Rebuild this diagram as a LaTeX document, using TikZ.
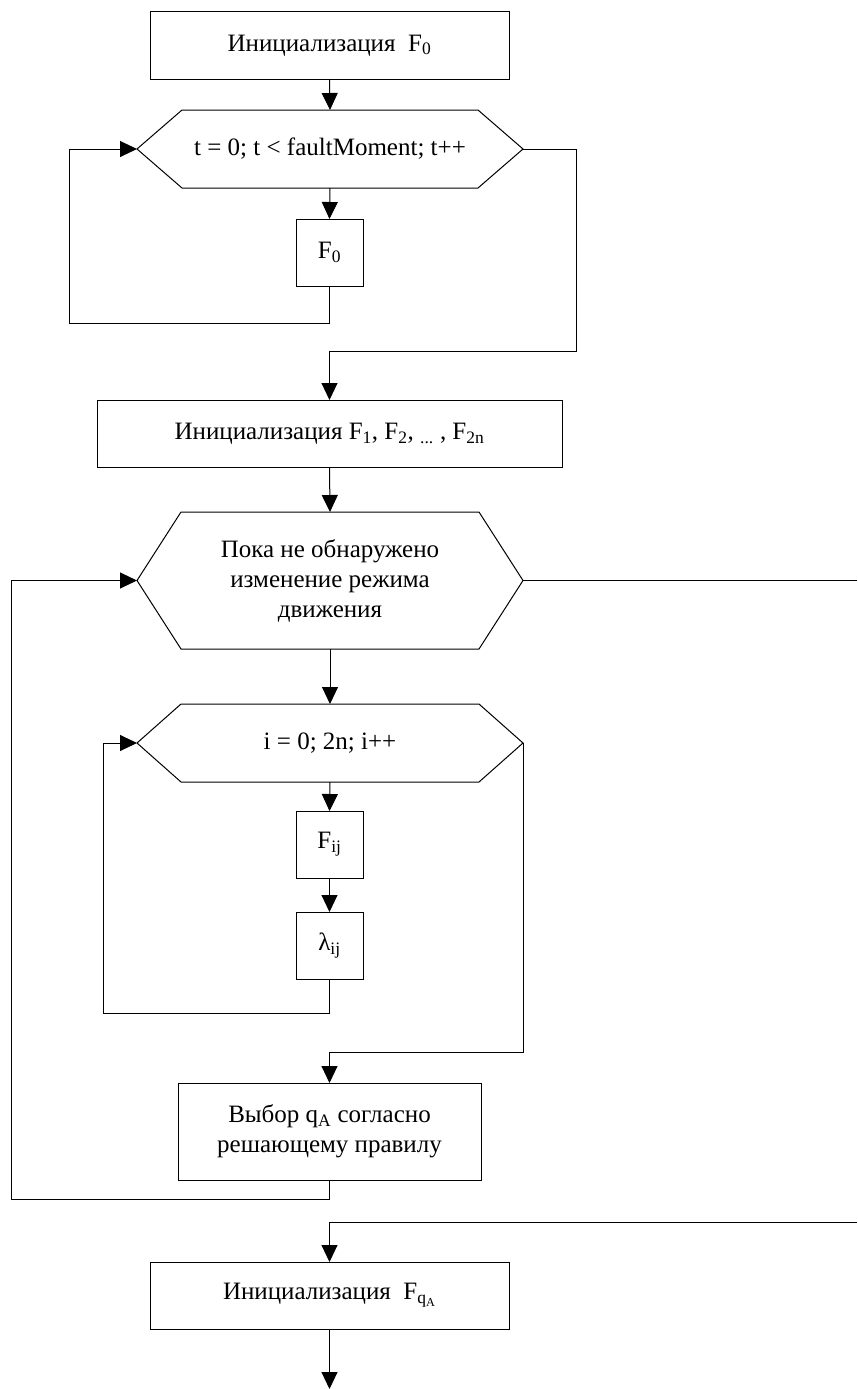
\documentclass[tikz,border=0pt]{standalone}
\usepackage{fontspec}
\setmainfont{Liberation Serif}
\usetikzlibrary{arrows.meta,calc}
\begin{document}
\begin{tikzpicture}[x=1pt,y=-1pt,
  line width=1pt,
  every node/.style={font=\fontsize{25}{30}\selectfont, inner sep=0pt, outer sep=0pt},
  procbox/.style={draw, rectangle, align=center},
  hexnode/.style={rectangle, align=center},
  conn/.style={-{Triangle[length=17pt,width=16pt]}},
  plain/.style={}
]
\useasboundingbox (0,0) rectangle (857,1389);

% nodes
\node[procbox, minimum width=359pt, minimum height=67pt] (b1) at (329.5,45.5) {Инициализация\ \ F\textsubscript{0}};
\node[hexnode, minimum width=386pt, minimum height=78pt] (h1) at (330,149) {t = 0; t < faultMoment; t++};
\node[procbox, minimum width=67pt, minimum height=67pt] (f0) at (329.5,252.5) {F\textsubscript{0}};
\node[procbox, minimum width=465pt, minimum height=67pt] (b2) at (329.5,433.5) {Инициализация F\textsubscript{1}, F\textsubscript{2}, \textsubscript{...} , F\textsubscript{2n}};
\node[hexnode, minimum width=386pt, minimum height=137pt] (h2) at (330,580.5) {Пока не обнаружено\\изменение режима\\движения};
\node[hexnode, minimum width=386pt, minimum height=78pt] (h3) at (330,743) {i = 0; 2n; i++};
\node[procbox, minimum width=67pt, minimum height=67pt] (fij) at (329.5,844.5) {F\textsubscript{ij}};
\node[procbox, minimum width=67pt, minimum height=67pt] (lij) at (329.5,945.5) {λ\textsubscript{ij}};
\node[procbox, minimum width=303pt, minimum height=97pt] (vyb) at (329.5,1131.5) {Выбор q\textsubscript{A} согласно\\решающему правилу};
\node[procbox, minimum width=359pt, minimum height=67pt] (b3) at (329.5,1295.5) {Инициализация\ \ F\textsubscript{q\textsubscript{A}}};

% hexagon outlines
\draw (h1.west) -- ([xshift=45pt]h1.north west) -- ([xshift=-45pt]h1.north east) -- (h1.east) -- ([xshift=-45pt]h1.south east) -- ([xshift=45pt]h1.south west) -- cycle;
\draw (h2.west) -- ([xshift=44pt]h2.north west) -- ([xshift=-44pt]h2.north east) -- (h2.east) -- ([xshift=-44pt]h2.south east) -- ([xshift=44pt]h2.south west) -- cycle;
\draw (h3.west) -- ([xshift=44pt]h3.north west) -- ([xshift=-44pt]h3.north east) -- (h3.east) -- ([xshift=-44pt]h3.south east) -- ([xshift=44pt]h3.south west) -- cycle;

% helper coordinates
\coordinate (l1) at (69,323);
\coordinate (r1) at (576,351);
\coordinate (l3) at (103,1013);
\coordinate (r3) at (523,1052);
\coordinate (l2) at (11,1199);
\coordinate (r2) at (857,580.5);
\coordinate (r4) at (857,1222);
\coordinate (endp) at (329.5,1389);

% connectors
\draw[conn] (b1.south) -- (h1.north);
\draw[conn] (h1.south) -- (f0.north);
\draw[conn] (f0.south) |- (l1) |- (h1.west);
\draw[conn] (h1.east) -| (r1) -| (b2.north);
\draw[conn] (b2.south) -- (h2.north);
\draw[conn] (h2.south) -- (h3.north);
\draw[conn] (h3.south) -- (fij.north);
\draw[conn] (fij.south) -- (lij.north);
\draw[conn] (lij.south) |- (l3) |- (h3.west);
\draw[conn] (h3.east) |- (r3) -| (vyb.north);
\draw[conn] (vyb.south) |- (l2) |- (h2.west);
\draw (h2.east) -- (r2);
\draw[conn] (r4) -| (b3.north);
\draw[conn] (b3.south) -- (endp);
\end{tikzpicture}
\end{document}
